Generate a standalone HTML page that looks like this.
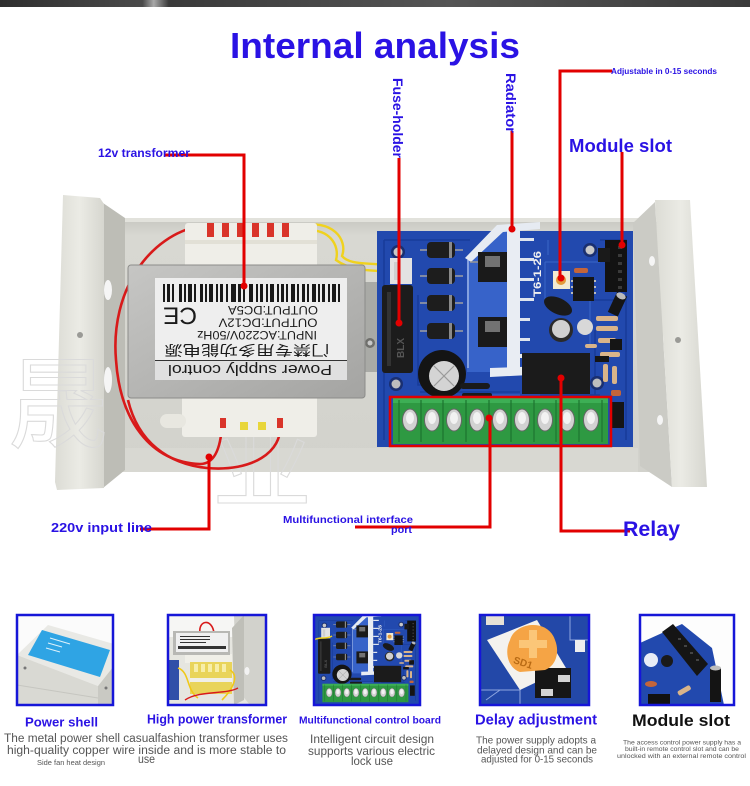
<!DOCTYPE html>
<html><head><meta charset="utf-8"><title>Internal analysis</title>
<style>
html,body{margin:0;padding:0;background:#fff}
body{width:750px;height:786px;overflow:hidden}
svg{display:block}
text{font-family:"Liberation Sans","Noto Sans CJK SC",sans-serif}
</style></head><body>
<svg xmlns="http://www.w3.org/2000/svg" xmlns:xlink="http://www.w3.org/1999/xlink" width="750" height="786" viewBox="0 0 750 786">
<defs>
<linearGradient id="gTop" x1="0" x2="1" y1="0" y2="0">
<stop offset="0" stop-color="#2e2e2e"/><stop offset="0.19" stop-color="#4a4a4a"/><stop offset="0.205" stop-color="#a8a8a8"/><stop offset="0.225" stop-color="#3a3a3a"/><stop offset="0.6" stop-color="#555"/><stop offset="1" stop-color="#3a3a3a"/>
</linearGradient>
<linearGradient id="gTray" x1="0" y1="0" x2="0" y2="1">
<stop offset="0" stop-color="#c6c6c0"/><stop offset="0.07" stop-color="#d8d8d2"/><stop offset="1" stop-color="#d2d2cc"/>
</linearGradient>
<linearGradient id="gShield" x1="0" y1="0" x2="1" y2="1">
<stop offset="0" stop-color="#c6c6c4"/><stop offset="1" stop-color="#a4a4a2"/>
</linearGradient>
<linearGradient id="gFlange" x1="0" y1="0" x2="1" y2="0">
<stop offset="0" stop-color="#dcdcd5"/><stop offset="0.5" stop-color="#ebebe5"/><stop offset="1" stop-color="#d6d6cf"/>
</linearGradient>
<clipPath id="c1"><rect x="17" y="615" width="96" height="90"/></clipPath>
<clipPath id="c2"><rect x="168" y="615" width="98" height="90"/></clipPath>
<clipPath id="c3"><rect x="314" y="615" width="106" height="90"/></clipPath>
<clipPath id="c4"><rect x="480" y="615" width="109" height="90"/></clipPath>
<clipPath id="c5"><rect x="640" y="615" width="94" height="90"/></clipPath>

<g id="pcb">
<rect x="377" y="231" width="256" height="216" fill="#2249ae"/>
<g fill="none" stroke="#183c9a" stroke-width="1.6">
<path d="M384 240 H470 M384 240 V440 M418 295 V385 H470 M600 240 H626 V440 M585 300 H625 M540 395 H600 M595 330 V395 M420 392 H520"/>
</g>
<g fill="none" stroke="#3a66c8" stroke-width="1">
<path d="M545 262 H600 M545 262 V300 M590 300 V345 M470 395 H520 M548 240 V255"/>
</g>
<circle cx="398" cy="252" r="7" fill="#1a2f70"/><circle cx="398" cy="252" r="4.5" fill="#c9c9c9"/>
<circle cx="396" cy="384" r="7" fill="#1a2f70"/><circle cx="396" cy="384" r="4.5" fill="#bdbdbd"/>
<circle cx="590" cy="250" r="7" fill="#1a2f70"/><circle cx="590" cy="250" r="4.5" fill="#c9c9c9"/>
<circle cx="597" cy="383" r="7" fill="#1a2f70"/><circle cx="597" cy="383" r="4.5" fill="#bdbdbd"/>
<rect x="390" y="258" width="22" height="26" fill="#e3e3e3"/>
<rect x="394" y="262" width="6" height="18" fill="#cfcfcf"/>
<rect x="382" y="285" width="31" height="88" rx="3" fill="#1c1c1c"/>
<rect x="387" y="292" width="4" height="74" fill="#333"/>
<text transform="translate(404,358) rotate(-90)" font-size="10" fill="#555" font-weight="bold">BLX</text>
<g>
<line x1="420" y1="250" x2="463" y2="250" stroke="#a0a0a0" stroke-width="1.5"/>
<line x1="420" y1="276" x2="463" y2="276" stroke="#a0a0a0" stroke-width="1.5"/>
<line x1="420" y1="303" x2="463" y2="303" stroke="#a0a0a0" stroke-width="1.5"/>
<line x1="420" y1="331" x2="463" y2="331" stroke="#a0a0a0" stroke-width="1.5"/>
<rect x="427" y="242" width="28" height="16" rx="4" fill="#1d1d1d"/>
<rect x="427" y="268" width="28" height="16" rx="4" fill="#1d1d1d"/>
<rect x="427" y="295" width="28" height="16" rx="4" fill="#1d1d1d"/>
<rect x="427" y="323" width="28" height="16" rx="4" fill="#1d1d1d"/>
<rect x="449" y="242" width="3" height="16" fill="#8a8a8a"/>
<rect x="449" y="268" width="3" height="16" fill="#8a8a8a"/>
<rect x="449" y="295" width="3" height="16" fill="#8a8a8a"/>
<rect x="449" y="323" width="3" height="16" fill="#8a8a8a"/>
</g>
<polygon points="467,258 497,228 507,228 507,372 467,372" fill="#3763c9"/>
<line x1="468" y1="260" x2="468" y2="368" stroke="#9fb4e6" stroke-width="1.5"/>
<polygon points="465,258 497,225 540,222 540,229 503,232 471,262" fill="#e6ebf2"/>
<rect x="507" y="226" width="13" height="148" fill="#e9edf3"/>
<g fill="#dfe5ee">
<rect x="520" y="238" width="14" height="3"/><rect x="520" y="258" width="14" height="3"/><rect x="520" y="278" width="14" height="3"/><rect x="520" y="298" width="14" height="3"/><rect x="520" y="318" width="10" height="3"/><rect x="520" y="338" width="10" height="3"/>
</g>
<polygon points="490,368 548,366 548,374 490,377" fill="#e9edf3"/>
<rect x="520" y="354" width="28" height="4" fill="#e9edf3"/>
<line x1="470" y1="262" x2="478" y2="262" stroke="#999" stroke-width="1.5"/>
<rect x="478" y="252" width="29" height="30" fill="#1a1a1a"/><rect x="485" y="256" width="15" height="11" fill="#727272"/>
<rect x="478" y="317" width="29" height="30" fill="#1a1a1a"/><rect x="485" y="321" width="15" height="11" fill="#727272"/>
<text transform="translate(541,297) rotate(-90)" font-size="11" font-weight="bold" fill="#f0f0f0" textLength="46" lengthAdjust="spacingAndGlyphs">T6-1-26</text>
<circle cx="442" cy="374" r="24" fill="#141414"/>
<circle cx="444" cy="376" r="15" fill="#d4d4d4"/>
<path d="M434 366 L454 386 M454 366 L434 386" stroke="#9a9a9a" stroke-width="1.2"/>
<rect x="460" y="383" width="30" height="6" rx="3" fill="#1a1a1a"/>
<rect x="462" y="393" width="30" height="5" rx="2" fill="#1a1a1a"/>
<rect x="553" y="271" width="17" height="18" fill="#f2ead2"/>
<circle cx="561" cy="280" r="5" fill="#e39a3a"/>
<rect x="573" y="277" width="21" height="24" fill="#161616"/>
<g fill="#bbb"><rect x="571" y="280" width="2" height="2"/><rect x="571" y="286" width="2" height="2"/><rect x="571" y="292" width="2" height="2"/><rect x="594" y="280" width="2" height="2"/><rect x="594" y="286" width="2" height="2"/><rect x="594" y="292" width="2" height="2"/></g>
<rect x="574" y="268" width="14" height="5" rx="2" fill="#c4653a"/>
<rect x="605" y="240" width="22" height="52" fill="#121212"/>
<g fill="#3a3a3a"><rect x="618" y="246" width="4" height="3"/><rect x="618" y="254" width="4" height="3"/><rect x="618" y="262" width="4" height="3"/><rect x="618" y="270" width="4" height="3"/><rect x="618" y="278" width="4" height="3"/><rect x="618" y="286" width="4" height="3"/></g>
<rect x="598" y="248" width="12" height="14" fill="#1a1a1a"/>
<ellipse cx="558" cy="306" rx="15" ry="8" fill="#1a1a1a" transform="rotate(25 558 306)"/>
<circle cx="561" cy="330" r="12" fill="#2a2a2a"/><circle cx="561" cy="329" r="9" fill="#d0d0d0"/>
<circle cx="585" cy="327" r="8" fill="#d8d8d8"/>
<rect x="612" y="293" width="11" height="22" fill="#151515" transform="rotate(25 617 304)"/>
<ellipse cx="621" cy="296" rx="5" ry="3" fill="#bbb" transform="rotate(25 621 296)"/>
<g fill="#d9b48a">
<rect x="596" y="316" width="22" height="5" rx="2"/><rect x="596" y="326" width="22" height="5" rx="2"/><rect x="598" y="338" width="18" height="5" rx="2"/><rect x="600" y="352" width="20" height="5" rx="2"/><rect x="603" y="364" width="5" height="18" rx="2"/><rect x="612" y="366" width="5" height="18" rx="2"/><rect x="585" y="344" width="12" height="4" rx="2"/>
</g>
<rect x="610" y="339" width="12" height="11" fill="#151515"/>
<rect x="595" y="356" width="14" height="6" fill="#151515"/>
<rect x="522" y="353" width="68" height="41" fill="#1b1b1b"/>
<rect x="393" y="398" width="215" height="46" fill="#2e9942"/>
<rect x="393" y="398" width="215" height="5" fill="#3daf55"/>
<g stroke="#1d7430" stroke-width="1.2">
<line x1="399" y1="400" x2="399" y2="442"/><line x1="421" y1="400" x2="421" y2="442"/><line x1="443" y1="400" x2="443" y2="442"/><line x1="466" y1="400" x2="466" y2="442"/><line x1="489" y1="400" x2="489" y2="442"/><line x1="511" y1="400" x2="511" y2="442"/><line x1="534" y1="400" x2="534" y2="442"/><line x1="556" y1="400" x2="556" y2="442"/><line x1="579" y1="400" x2="579" y2="442"/><line x1="602" y1="400" x2="602" y2="442"/>
</g>
<g fill="#d2d2d2" stroke="#666" stroke-width="1">
<ellipse cx="410" cy="420" rx="7.5" ry="11"/><ellipse cx="432" cy="420" rx="7.5" ry="11"/><ellipse cx="454" cy="420" rx="7.5" ry="11"/><ellipse cx="477" cy="420" rx="7.5" ry="11"/><ellipse cx="500" cy="420" rx="7.5" ry="11"/><ellipse cx="522" cy="420" rx="7.5" ry="11"/><ellipse cx="545" cy="420" rx="7.5" ry="11"/><ellipse cx="567" cy="420" rx="7.5" ry="11"/><ellipse cx="591" cy="420" rx="7.5" ry="11"/>
</g>
<g fill="#f2f2f2">
<ellipse cx="410" cy="418" rx="4" ry="6"/><ellipse cx="432" cy="418" rx="4" ry="6"/><ellipse cx="454" cy="418" rx="4" ry="6"/><ellipse cx="477" cy="418" rx="4" ry="6"/><ellipse cx="500" cy="418" rx="4" ry="6"/><ellipse cx="522" cy="418" rx="4" ry="6"/><ellipse cx="545" cy="418" rx="4" ry="6"/><ellipse cx="567" cy="418" rx="4" ry="6"/><ellipse cx="591" cy="418" rx="4" ry="6"/>
</g>
<rect x="612" y="402" width="12" height="26" fill="#151515"/>
<rect x="611" y="390" width="10" height="6" rx="2" fill="#c4653a"/>
</g>
</defs>

<rect x="0" y="0" width="750" height="7" fill="url(#gTop)"/>

<text x="375" y="58" text-anchor="middle" font-size="36" font-weight="bold" fill="#2a12e4" textLength="290" lengthAdjust="spacingAndGlyphs">Internal analysis</text>

<rect x="118" y="218" width="545" height="254" fill="url(#gTray)"/>
<rect x="118" y="218" width="545" height="4" fill="#e2e2dc"/>
<rect x="118" y="448" width="520" height="24" fill="#d8d8d2"/>
<polygon points="633,223 655,202 672,487 640,466" fill="#cbcbc5"/>
<polygon points="103,203 125,218 125,470 103,488" fill="#bdbdb6"/>
<ellipse cx="108" cy="290" rx="4" ry="10" fill="#f5f5f5"/>
<ellipse cx="108" cy="380" rx="4" ry="13" fill="#f5f5f5"/>
<polygon points="63,195 100,198 104,204 104,488 57,490 55,482" fill="url(#gFlange)"/>
<circle cx="80" cy="335" r="3" fill="#9a9a96"/>
<polygon points="655,200 690,200 707,487 672,487" fill="url(#gFlange)"/>
<circle cx="678" cy="340" r="3" fill="#9a9a96"/>
<ellipse cx="652" cy="261" rx="3" ry="5" fill="#f5f5f5"/>
<ellipse cx="660" cy="420" rx="3" ry="5" fill="#f5f5f5"/>

<g fill="none" stroke="#dadada" stroke-width="1.1" font-size="100">
<text x="8" y="440">晟</text>
<text x="212" y="500">业</text>
</g>

<rect x="360" y="282" width="20" height="90" fill="#a9aaa6"/>
<circle cx="370" cy="343" r="5" fill="#6f6f6c"/>
<circle cx="370" cy="343" r="2.5" fill="#c8c8c8"/>

<g fill="none" stroke="#d81a1a" stroke-width="2.6">
<path d="M200 226 C150 235 110 290 116 360 C120 420 150 462 200 464 C216 464 221 445 222 424"/>
<path d="M280 424 C283 452 252 472 207 468 C168 464 138 442 128 400"/>
</g>

<g fill="none" stroke="#f0d21e" stroke-width="2.4">
<path d="M298 226 C333 218 348 240 342 256 C350 266 372 262 392 266"/>
<path d="M300 231 C330 226 340 246 336 260 C352 272 375 270 392 272"/>
</g>

<rect x="185" y="223" width="132" height="46" rx="3" fill="#efeee8"/>
<g fill="#d9342a">
<rect x="207" y="223" width="7" height="14"/><rect x="222" y="223" width="7" height="14"/><rect x="237" y="223" width="7" height="14"/><rect x="252" y="223" width="7" height="14"/><rect x="267" y="223" width="7" height="14"/><rect x="282" y="223" width="7" height="14"/>
</g>
<rect x="185" y="240" width="132" height="4" fill="#e2e0d6"/>
<rect x="182" y="395" width="135" height="42" rx="3" fill="#efeee8"/>
<rect x="160" y="414" width="26" height="14" rx="7" fill="#e8e7e0"/>
<rect x="240" y="422" width="8" height="8" fill="#e8d63a"/>
<rect x="258" y="422" width="8" height="8" fill="#e8d63a"/>
<rect x="220" y="418" width="6" height="10" fill="#d9342a"/>
<rect x="277" y="418" width="6" height="10" fill="#d9342a"/>
<rect x="128" y="265" width="237" height="133" rx="3" fill="url(#gShield)" stroke="#8c8c8a" stroke-width="1"/>
<rect x="155" y="278" width="192" height="102" fill="#eeeeee"/>
<g fill="#1a1a1a">
<rect x="163" y="284" width="2" height="18"/><rect x="167" y="284" width="3" height="18"/><rect x="172" y="284" width="2" height="18"/><rect x="179" y="284" width="3" height="18"/><rect x="184" y="284" width="2" height="18"/><rect x="188" y="284" width="4" height="18"/><rect x="194" y="284" width="2" height="18"/><rect x="200" y="284" width="3" height="18"/><rect x="205" y="284" width="2" height="18"/><rect x="209" y="284" width="4" height="18"/><rect x="216" y="284" width="2" height="18"/><rect x="220" y="284" width="3" height="18"/><rect x="226" y="284" width="2" height="18"/><rect x="231" y="284" width="5" height="18"/><rect x="238" y="284" width="3" height="18"/><rect x="243" y="284" width="2" height="18"/><rect x="249" y="284" width="4" height="18"/><rect x="256" y="284" width="2" height="18"/><rect x="260" y="284" width="3" height="18"/><rect x="266" y="284" width="2" height="18"/><rect x="270" y="284" width="4" height="18"/><rect x="277" y="284" width="2" height="18"/><rect x="281" y="284" width="3" height="18"/><rect x="286" y="284" width="2" height="18"/><rect x="291" y="284" width="4" height="18"/><rect x="297" y="284" width="2" height="18"/><rect x="302" y="284" width="3" height="18"/><rect x="307" y="284" width="2" height="18"/><rect x="312" y="284" width="4" height="18"/><rect x="318" y="284" width="2" height="18"/><rect x="322" y="284" width="3" height="18"/><rect x="328" y="284" width="2" height="18"/><rect x="332" y="284" width="4" height="18"/><rect x="338" y="284" width="2" height="18"/>
</g>
<g fill="#1a1a1a">
<text x="273" y="314.2" text-anchor="middle" font-size="12" textLength="90" lengthAdjust="spacingAndGlyphs" transform="rotate(180 273 310)">OUTPUT:DC5A</text>
<text x="268" y="326.7" text-anchor="middle" font-size="12" textLength="99" lengthAdjust="spacingAndGlyphs" transform="rotate(180 268 322.5)">OUTPUT:DC12V</text>
<text x="257" y="339.2" text-anchor="middle" font-size="12" textLength="120" lengthAdjust="spacingAndGlyphs" transform="rotate(180 257 335)">INPUT:AC220V/50Hz</text>
<text x="180" y="324.5" text-anchor="middle" font-size="24" textLength="34" lengthAdjust="spacingAndGlyphs" transform="rotate(180 180 316)">CE</text>
<text x="247" y="355" text-anchor="middle" font-size="14" textLength="165" lengthAdjust="spacingAndGlyphs" transform="rotate(180 247 350)">门禁专用多功能电源</text>
</g>
<rect x="155" y="361" width="192" height="19" fill="#e0e0e0"/>
<line x1="155" y1="360.5" x2="347" y2="360.5" stroke="#333" stroke-width="1"/>
<text x="250" y="375.2" text-anchor="middle" font-size="15" fill="#1a1a1a" textLength="164" lengthAdjust="spacingAndGlyphs" transform="rotate(180 250 370)">Power supply control</text>

<use xlink:href="#pcb"/>

<rect x="390" y="397" width="221" height="49" fill="none" stroke="#e20000" stroke-width="2.5"/>

<g fill="none" stroke="#e20000" stroke-width="3">
<polyline points="165,155 244,155 244,285"/>
<line x1="399" y1="158" x2="399" y2="322"/>
<line x1="512" y1="131" x2="512" y2="228"/>
<polyline points="612,71 560,71 560,277"/>
<line x1="622" y1="152" x2="622" y2="244"/>
<polyline points="140,529 209,529 209,458"/>
<polyline points="355,527 490,527 490,419"/>
<polyline points="630,531 561,531 561,379"/>
</g>
<g fill="#e20000">
<circle cx="244" cy="286" r="3.5"/><circle cx="399" cy="323" r="3.5"/><circle cx="512" cy="229" r="3.5"/><circle cx="561" cy="278" r="3.5"/><circle cx="622" cy="245" r="3.5"/><circle cx="209" cy="457" r="3.5"/><circle cx="489" cy="418" r="3.5"/><circle cx="561" cy="378" r="3.5"/>
</g>
<g fill="#2a12e4" font-weight="bold">
<text x="98" y="157" font-size="12" textLength="92" lengthAdjust="spacingAndGlyphs">12v transformer</text>
<text transform="translate(393,78) rotate(90)" font-size="14" textLength="80" lengthAdjust="spacingAndGlyphs">Fuse-holder</text>
<text transform="translate(506,73) rotate(90)" font-size="14" textLength="60" lengthAdjust="spacingAndGlyphs">Radiator</text>
<text x="611" y="74" font-size="8" textLength="106" lengthAdjust="spacingAndGlyphs">Adjustable in 0-15 seconds</text>
<text x="569" y="152" font-size="18" textLength="103" lengthAdjust="spacingAndGlyphs">Module slot</text>
<text x="51" y="532" font-size="13" textLength="101" lengthAdjust="spacingAndGlyphs">220v input line</text>
<text x="283" y="523" font-size="10" textLength="130" lengthAdjust="spacingAndGlyphs">Multifunctional interface</text>
<text x="391" y="533" font-size="10" textLength="21" lengthAdjust="spacingAndGlyphs">port</text>
<text x="623" y="536" font-size="21" textLength="57" lengthAdjust="spacingAndGlyphs">Relay</text>
</g>

<g clip-path="url(#c1)">
<rect x="17" y="615" width="96" height="90" fill="#fbfbfb"/>
<polygon points="17,655 48,625 128,648 98,686" fill="#e9e9e5"/>
<polygon points="17,655 98,686 98,705 17,705" fill="#d9d9d3"/>
<polygon points="98,686 128,648 128,705 98,705" fill="#c9c9c3"/>
<polygon points="42,630 110,650 100,677 28,655" fill="#2fa4e4"/>
<line x1="17" y1="685" x2="98" y2="698" stroke="#c6c6c0" stroke-width="1"/>
<circle cx="25" cy="668" r="1.5" fill="#777"/>
<circle cx="106" cy="688" r="1.5" fill="#777"/>
<g stroke="#dff2fb" stroke-width="1"><line x1="50" y1="638" x2="70" y2="644"/><line x1="48" y1="643" x2="62" y2="647"/><line x1="46" y1="648" x2="60" y2="652"/></g>
</g>
<rect x="17" y="615" width="96" height="90" fill="none" stroke="#1616d8" stroke-width="2.5"/>

<g clip-path="url(#c2)">
<rect x="167" y="615" width="99" height="90" fill="#e6e6e0"/>
<rect x="167" y="615" width="99" height="22" fill="#f6f6f4"/>
<rect x="167" y="660" width="12" height="40" fill="#3050a8"/>
<polygon points="234,615 266,615 266,705 250,705 236,688" fill="#d2d2cc"/>
<polygon points="232,628 244,615 244,700 234,705" fill="#bfbfb8"/>
<ellipse cx="247" cy="671" rx="2.5" ry="4" fill="#f2f2f2"/>
<path d="M200 633 C198 620 212 618 214 633" fill="none" stroke="#d81a1a" stroke-width="1.6"/>
<rect x="185" y="654" width="47" height="9" fill="#f0efe8"/>
<rect x="190" y="662" width="42" height="32" fill="#e9d45a"/>
<g fill="#f7eea8"><rect x="194" y="664" width="4" height="8"/><rect x="201" y="664" width="4" height="8"/><rect x="208" y="664" width="4" height="8"/><rect x="215" y="664" width="4" height="8"/><rect x="222" y="664" width="4" height="8"/></g>
<rect x="190" y="678" width="42" height="4" fill="#f0efe8"/>
<rect x="173" y="631" width="57" height="24" fill="#b8b8b4"/>
<rect x="176" y="633" width="52" height="19" fill="#f0f0f0"/>
<g fill="#333"><rect x="178" y="646" width="48" height="3"/><rect x="180" y="636" width="30" height="1"/><rect x="180" y="639" width="30" height="1"/><rect x="180" y="642" width="26" height="1"/></g>
<g fill="none" stroke="#f0c818" stroke-width="1.6"><path d="M178 668 C190 672 186 690 198 698"/><path d="M230 670 C240 676 232 690 222 700"/></g>
<path d="M185 700 C200 690 225 695 238 688" fill="none" stroke="#d81a1a" stroke-width="1.4"/>
</g>
<rect x="168" y="615" width="98" height="90" fill="none" stroke="#1616d8" stroke-width="2.5"/>

<g clip-path="url(#c3)">
<rect x="314" y="615" width="106" height="90" fill="#2249ae"/>
<use xlink:href="#pcb" transform="translate(165.2 524.6) scale(0.4)"/>
<path d="M314 640 C320 636 326 640 332 636" fill="none" stroke="#f0d21e" stroke-width="1.5"/>
</g>
<rect x="314" y="615" width="106" height="90" fill="none" stroke="#1616d8" stroke-width="2.5"/>

<g clip-path="url(#c4)">
<rect x="480" y="615" width="109" height="90" fill="#2348a8"/>
<g fill="none" stroke="#8fa6e0" stroke-width="1"><path d="M480 690 H520 V705 M570 615 V640 H589 M486 700 L500 690"/></g>
<rect x="486" y="615" width="18" height="10" fill="#e6e1d6"/>
<rect x="575" y="640" width="10" height="12" fill="#eee"/>
<polygon points="487,640 537,620 566,668 520,690" fill="#f4f2ee"/>
<rect x="535" y="668" width="36" height="30" fill="#161616"/>
<rect x="541" y="689" width="12" height="7" fill="#d4d4d4"/><rect x="558" y="675" width="12" height="7" fill="#d4d4d4"/>
<path d="M510 640 C515 622 548 618 555 640 C560 652 556 666 545 670 L520 672 C508 668 504 652 510 640 Z" fill="#f5a445"/>
<path d="M529 630 h8 v10 h10 v8 h-10 v10 h-8 v-10 h-10 v-8 h10 z" fill="#fbc678"/>
<text x="514" y="665" font-size="10" fill="#b86a14" font-weight="bold" transform="rotate(18 520 660)">SD1</text>
</g>
<rect x="480" y="615" width="109" height="90" fill="none" stroke="#1616d8" stroke-width="2.5"/>

<g clip-path="url(#c5)">
<rect x="640" y="615" width="94" height="90" fill="#fdfdfd"/>
<polygon points="640,643 682,624 712,648 724,705 640,705" fill="#2249ae"/>
<circle cx="651" cy="660" r="7" fill="#e8ecf6"/>
<polygon points="662,632 673,624 708,664 697,676" fill="#151515"/>
<g fill="#444"><rect x="678" y="638" width="3" height="2"/><rect x="684" y="645" width="3" height="2"/><rect x="690" y="652" width="3" height="2"/><rect x="696" y="659" width="3" height="2"/></g>
<circle cx="667" cy="661" r="6" fill="#1a1a1a"/>
<rect x="710" y="668" width="11" height="34" fill="#141414"/>
<ellipse cx="715.5" cy="668" rx="5.5" ry="2.5" fill="#bdbdbd"/>
<rect x="677" y="688" width="14" height="5" rx="2" fill="#d9b48a" transform="rotate(-30 684 690)"/>
<ellipse cx="651" cy="684" rx="6" ry="3" fill="#c4653a"/>
<rect x="648" y="694" width="22" height="11" fill="#111"/>
</g>
<rect x="640" y="615" width="94" height="90" fill="none" stroke="#1616d8" stroke-width="2.5"/>

<g font-weight="bold" fill="#2a12e4">
<text x="25" y="726.5" font-size="13" textLength="73" lengthAdjust="spacingAndGlyphs">Power shell</text>
<text x="147" y="723.5" font-size="12.5" textLength="140" lengthAdjust="spacingAndGlyphs">High power transformer</text>
<text x="299" y="723.5" font-size="10.5" textLength="142" lengthAdjust="spacingAndGlyphs">Multifunctional control board</text>
<text x="475" y="724.5" font-size="15" textLength="122" lengthAdjust="spacingAndGlyphs">Delay adjustment</text>
<text x="632" y="726" font-size="17" fill="#111" textLength="98" lengthAdjust="spacingAndGlyphs">Module slot</text>
</g>
<g fill="#555">
<text x="4" y="742" font-size="11.5" textLength="284" lengthAdjust="spacingAndGlyphs">The metal power shell casualfashion transformer uses</text>
<text x="7" y="754" font-size="11.5" textLength="279" lengthAdjust="spacingAndGlyphs">high-quality copper wire inside and is more stable to</text>
<text x="138" y="763" font-size="11.5" textLength="17" lengthAdjust="spacingAndGlyphs">use</text>
<text x="37" y="765" font-size="7" textLength="68" lengthAdjust="spacingAndGlyphs">Side fan heat design</text>
<text x="310" y="743" font-size="12" textLength="124" lengthAdjust="spacingAndGlyphs">Intelligent circuit design</text>
<text x="308" y="755" font-size="12" textLength="127" lengthAdjust="spacingAndGlyphs">supports various electric</text>
<text x="351" y="765" font-size="12" textLength="42" lengthAdjust="spacingAndGlyphs">lock use</text>
<text x="476" y="743.5" font-size="10.5" textLength="120" lengthAdjust="spacingAndGlyphs">The power supply adopts a</text>
<text x="477" y="753.5" font-size="10.5" textLength="120" lengthAdjust="spacingAndGlyphs">delayed design and can be</text>
<text x="481" y="762.5" font-size="10.5" textLength="112" lengthAdjust="spacingAndGlyphs">adjusted for 0-15 seconds</text>
<text x="623" y="744.5" font-size="6.5" textLength="118" lengthAdjust="spacingAndGlyphs">The access control power supply has a</text>
<text x="625" y="751" font-size="6.5" textLength="114" lengthAdjust="spacingAndGlyphs">built-in remote control slot and can be</text>
<text x="617" y="758" font-size="6.5" textLength="129" lengthAdjust="spacingAndGlyphs">unlocked with an external remote control</text>
</g>
</svg>
</body></html>
